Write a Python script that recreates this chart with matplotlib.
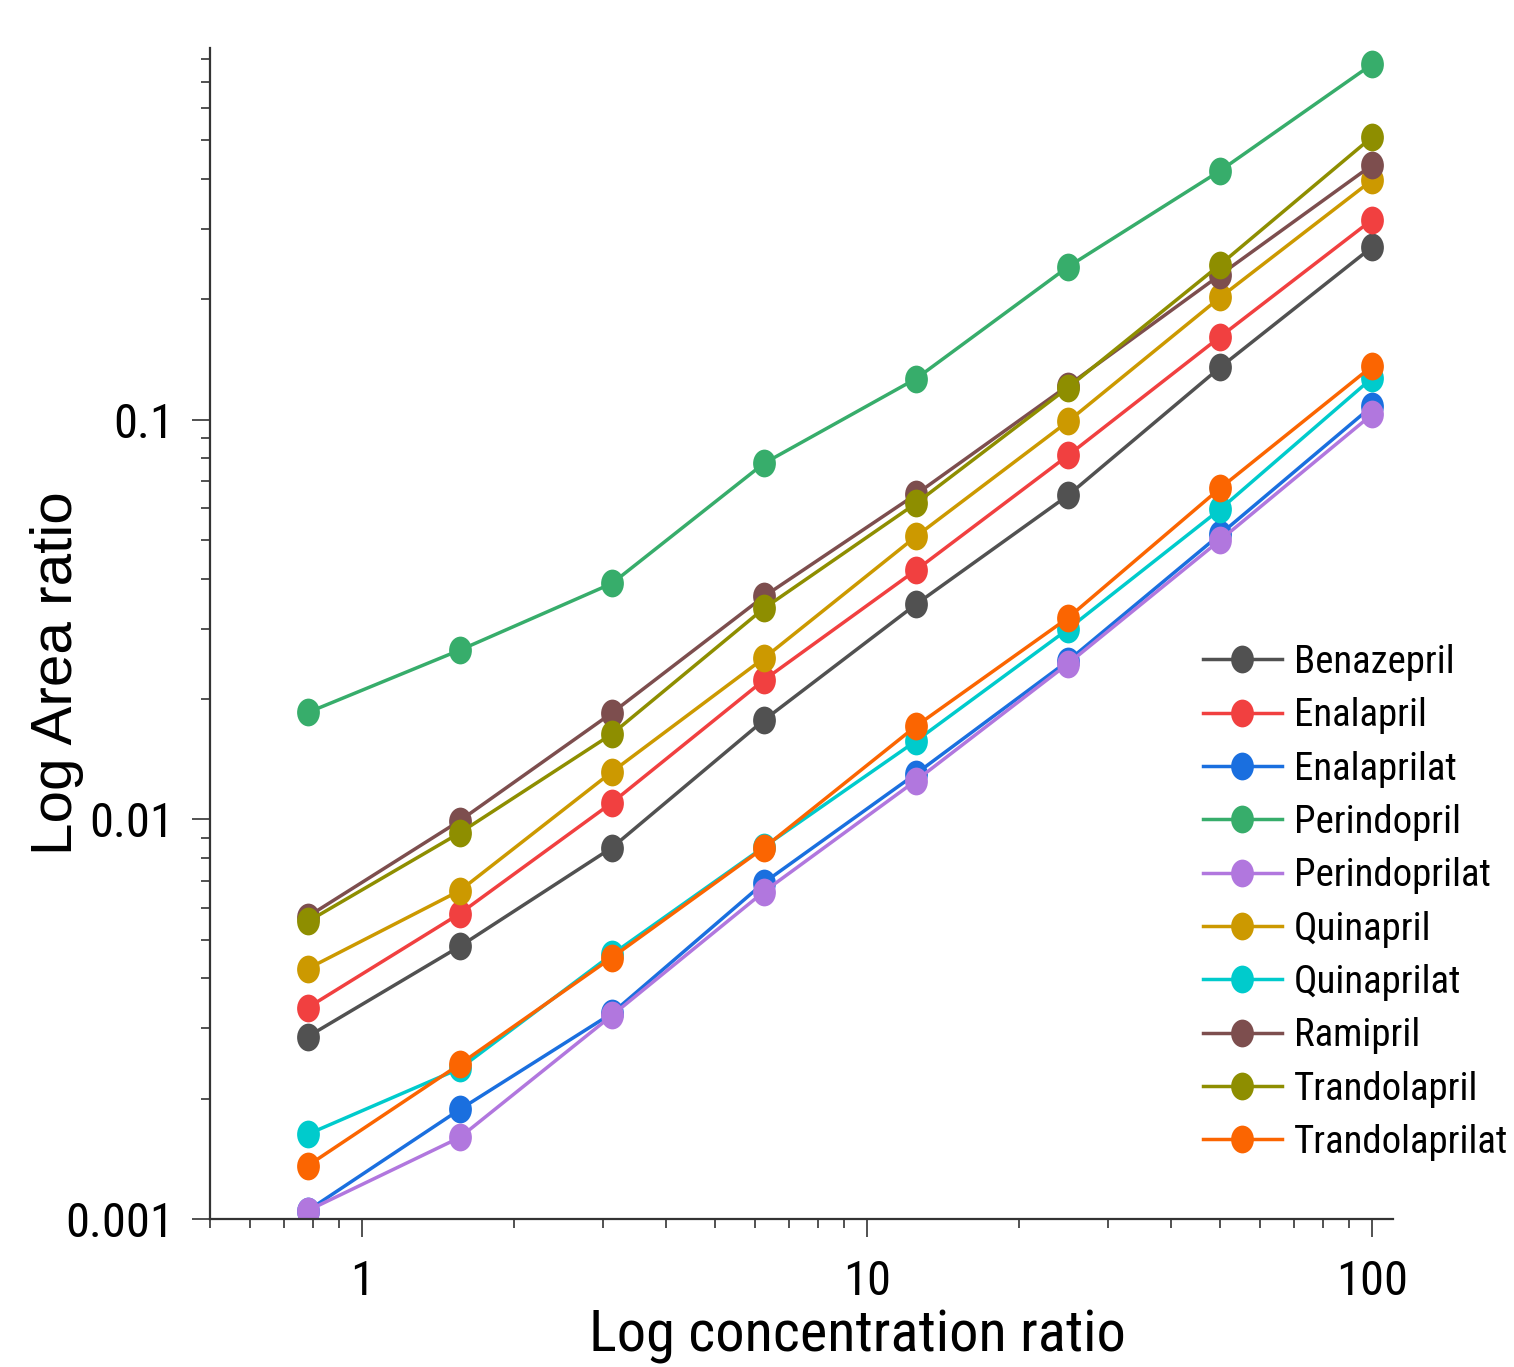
import numpy as np
import matplotlib.pyplot as plt
from matplotlib.path import Path
from matplotlib.transforms import Affine2D
from matplotlib.ticker import LogLocator, NullFormatter, FixedLocator, FixedFormatter

# concentration ratios (x) and area ratios (y) per compound
conc = [0.78125, 1.5625, 3.125, 6.25, 12.5, 25, 50, 100]

benazepril = [0.00286, 0.00481, 0.00849, 0.0177, 0.0345, 0.0646, 0.135, 0.270]
enalapril = [0.00338, 0.00581, 0.0110, 0.0223, 0.0420, 0.0813, 0.161, 0.316]
enalaprilat = [0.00105, 0.00188, 0.00327, 0.00694, 0.0130, 0.0249, 0.0516, 0.108]
perindopril = [0.0185, 0.0265, 0.0389, 0.0777, 0.1265, 0.241, 0.419, 0.774]
perindoprilat = [0.00105, 0.00160, 0.00323, 0.00659, 0.0125, 0.0245, 0.0499, 0.103]
quinapril = [0.00423, 0.00663, 0.01314, 0.0253, 0.0510, 0.0989, 0.202, 0.397]
quinaprilat = [0.00163, 0.00238, 0.00459, 0.00853, 0.0157, 0.0299, 0.0596, 0.127]
ramipril = [0.00571, 0.00992, 0.01845, 0.0361, 0.0650, 0.1216, 0.230, 0.433]
trandolapril = [0.00555, 0.00925, 0.01634, 0.0337, 0.0617, 0.1202, 0.244, 0.509]
trandolaprilat = [0.00136, 0.00244, 0.00451, 0.00849, 0.0171, 0.0319, 0.0673, 0.136]

names = ['Benazepril', 'Enalapril', 'Enalaprilat', 'Perindopril', 'Perindoprilat',
         'Quinapril', 'Quinaprilat', 'Ramipril', 'Trandolapril', 'Trandolaprilat']
series = [benazepril, enalapril, enalaprilat, perindopril, perindoprilat,
          quinapril, quinaprilat, ramipril, trandolapril, trandolaprilat]
colors = ['#515151', '#F14040', '#1A6FDF', '#37AD6B', '#B177DE',
          '#CC9900', '#00CBCC', '#7D4E4E', '#8E8E00', '#FB6501']

narrow = ['Roboto Condensed', 'Archivo Narrow', 'Liberation Sans', 'DejaVu Sans']
plt.rcParams['font.family'] = narrow

# slightly tall ellipse marker
ell = Path.unit_circle().transformed(Affine2D().scale(0.82, 1.0))

W, H = 1514, 1367
fig = plt.figure(figsize=(W / 100, H / 100), dpi=100)
ax = fig.add_axes([210 / W, 1 - 1219 / H, (1393 - 210) / W, (1219 - 48) / H])

for name, vals, col in zip(names, series, colors):
    ax.plot(conc, vals, color=col, lw=2.5, marker=ell, markersize=20,
            markeredgewidth=0, label=name)

ax.set_xscale('log')
ax.set_yscale('log')
ax.set_xlim(0.5, 110)
ax.set_ylim(0.001, 0.85)

ax.xaxis.set_major_locator(FixedLocator([1, 10, 100]))
ax.xaxis.set_major_formatter(FixedFormatter(['1', '10', '100']))
ax.yaxis.set_major_locator(FixedLocator([0.001, 0.01, 0.1]))
ax.yaxis.set_major_formatter(FixedFormatter(['0.001', '0.01', '0.1']))
ax.xaxis.set_minor_locator(LogLocator(base=10, subs=np.arange(2, 10), numticks=20))
ax.yaxis.set_minor_locator(LogLocator(base=10, subs=np.arange(2, 10), numticks=20))
ax.xaxis.set_minor_formatter(NullFormatter())
ax.yaxis.set_minor_formatter(NullFormatter())

for side in ['top', 'right']:
    ax.spines[side].set_visible(False)
for side in ['left', 'bottom']:
    ax.spines[side].set_linewidth(1.6)
    ax.spines[side].set_color('#333333')

ax.tick_params(which='major', direction='out', length=13, width=1.2, color='#333333',
               labelsize=35)
ax.tick_params(which='minor', direction='out', length=6.5, width=1.2, color='#333333')
ax.tick_params(axis='x', which='major', pad=16)
ax.tick_params(axis='y', which='major', pad=13)

fig.text(857 / W, 1 - 1351 / H, 'Log concentration ratio', fontsize=42,
         ha='center', va='baseline')
fig.text(72 / W, 1 - 673 / H, 'Log Area ratio', fontsize=42, rotation=90,
         rotation_mode='anchor', ha='center', va='baseline',
         family=['Liberation Sans', 'DejaVu Sans'])

ax.legend(loc='upper left', bbox_to_anchor=(1203 / W, 1 - 644 / H),
          bbox_transform=fig.transFigure, frameon=False, fontsize=28,
          handlelength=2.02, handletextpad=0.31, labelspacing=0.42,
          borderpad=0, borderaxespad=0)

fig.savefig('out.png', dpi=100)
